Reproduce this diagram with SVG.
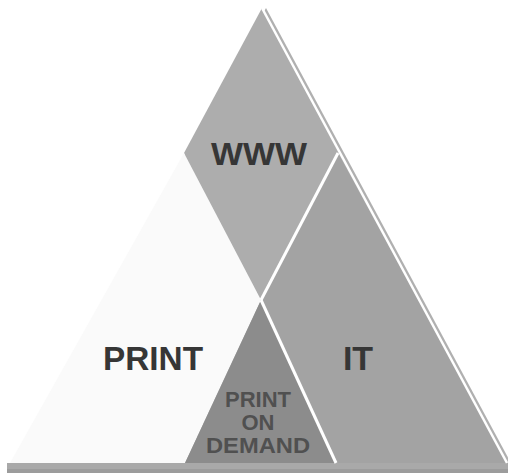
<svg xmlns="http://www.w3.org/2000/svg" width="508" height="473" viewBox="0 0 508 473">
<style>
.lbl{font-family:"Liberation Sans",Arial,sans-serif;font-weight:bold;fill:#363636;text-anchor:middle}
.pod{font-family:"Liberation Sans",Arial,sans-serif;font-weight:bold;fill:#505050;text-anchor:middle;font-size:22px}
.sep{stroke:#fff;stroke-width:3;fill:none}
</style>
<rect width="508" height="473" fill="#fff"/>
<g id="shadow">
<polygon points="266,8 511,463 14,463" fill="#b0b0b0"/>
<rect x="7" y="463" width="501" height="10" fill="#a9a9a9"/>
<rect x="7" y="469" width="501" height="4" fill="#9c9c9c"/>
</g>
<g id="www">
<polygon points="262,8 338,153 261,300 184,153" fill="#adadad"/>
<text class="lbl" x="259" y="165" font-size="31" textLength="96" lengthAdjust="spacingAndGlyphs">WWW</text>
</g>
<g id="print">
<polygon points="184,153 261,300 185,463 10,463" fill="#fafafa"/>
<text class="lbl" x="153" y="370" font-size="34" textLength="100" lengthAdjust="spacingAndGlyphs">PRINT</text>
</g>
<g id="it">
<polygon points="338,153 507,463 336,463 261,300" fill="#a3a3a3"/>
<text class="lbl" x="358" y="370" font-size="34">IT</text>
</g>
<g id="pod">
<polygon points="261,300 336,463 185,463" fill="#8c8c8c"/>
<text class="pod" x="258" y="407">PRINT</text>
<text class="pod" x="258" y="430">ON</text>
<text class="pod" x="258" y="453" textLength="104" lengthAdjust="spacingAndGlyphs">DEMAND</text>
</g>
<g id="connectors">
<line class="sep" x1="338" y1="153" x2="261" y2="300"/>
<line class="sep" x1="261" y1="300" x2="336" y2="463"/>
<line x1="262" y1="8" x2="507" y2="463" stroke="#fff" stroke-width="2.5"/>
</g>
</svg>
